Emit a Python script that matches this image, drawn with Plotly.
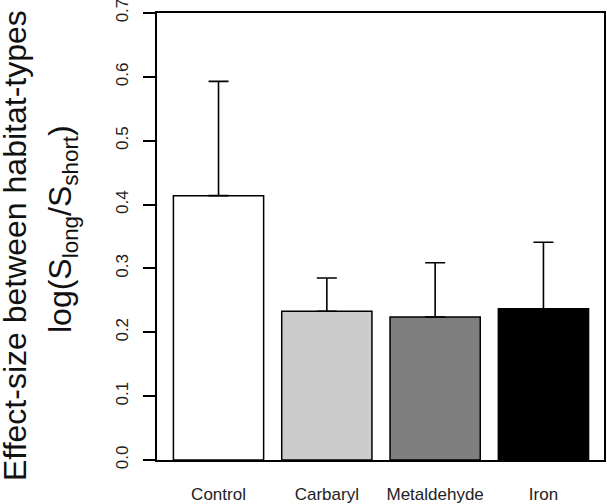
import plotly.graph_objects as go

categories = ["Control", "Carbaryl", "Metaldehyde", "Iron"]
values = [0.414, 0.233, 0.224, 0.237]
upper = [0.593, 0.285, 0.309, 0.341]
colors = ["#FFFFFF", "#CCCCCC", "#7F7F7F", "#000000"]
y_ticks = [0.0, 0.1, 0.2, 0.3, 0.4, 0.5, 0.6, 0.7]
y_title_1 = "Effect-size between habitat-types"
y_title_2 = "log(S<sub>long</sub>/S<sub>short</sub>)"

err_plus = [u - v for u, v in zip(upper, values)]

W, H = 607, 504
ml, mr, mt, mb = 157, 3, 13, 44
pw = W - ml - mr

fig = go.Figure()
fig.add_trace(go.Bar(
    x=categories, y=values,
    marker=dict(color=colors, line=dict(color="black", width=1.5)),
    error_y=dict(type="data", symmetric=False, array=err_plus,
                 arrayminus=[0] * len(values), color="black",
                 thickness=1.6, width=10),
    width=0.833,
))

font = "Liberation Sans, Arial, sans-serif"
fig.update_layout(
    template="none",
    width=W, height=H,
    margin=dict(l=ml, r=mr, t=mt, b=mb, autoexpand=False),
    paper_bgcolor="white", plot_bgcolor="white",
    showlegend=False,
    font=dict(family=font, color="black"),
    xaxis=dict(range=[-0.568, 3.559], showline=True, mirror=True,
               linecolor="black", linewidth=1.5, ticks="",
               showgrid=False, tickfont=dict(size=17, color="#222"),
               ticklabelstandoff=18, automargin=False, fixedrange=True),
    yaxis=dict(range=[0, 0.7001], tickvals=y_ticks,
               ticktext=[f"{t:.1f}" for t in y_ticks],
               showline=True, mirror=True, linecolor="black", linewidth=1.5,
               ticks="outside", ticklen=12, tickwidth=1.5, tickcolor="black",
               tickangle=-90, showgrid=False, zeroline=False,
               tickfont=dict(size=17, color="#222"), ticklabelstandoff=8,
               ticklabeloverflow="allow",
               automargin=False, fixedrange=True),
)

fig.add_annotation(text=y_title_1, xref="paper", yref="paper",
                   x=(15 - ml) / pw, y=1 - (246 - mt) / (H - mt - mb),
                   xanchor="center", yanchor="middle", textangle=-90,
                   showarrow=False, font=dict(size=32, family=font, color="#111"))
fig.add_annotation(text=y_title_2, xref="paper", yref="paper",
                   x=(62 - ml) / pw, y=1 - (229 - mt) / (H - mt - mb),
                   xanchor="center", yanchor="middle", textangle=-90,
                   showarrow=False, font=dict(size=32, family=font, color="#111"))

fig.write_html("out.html", config={"displayModeBar": False},
               post_script="document.body.style.margin='0';document.body.style.overflow='hidden';")
